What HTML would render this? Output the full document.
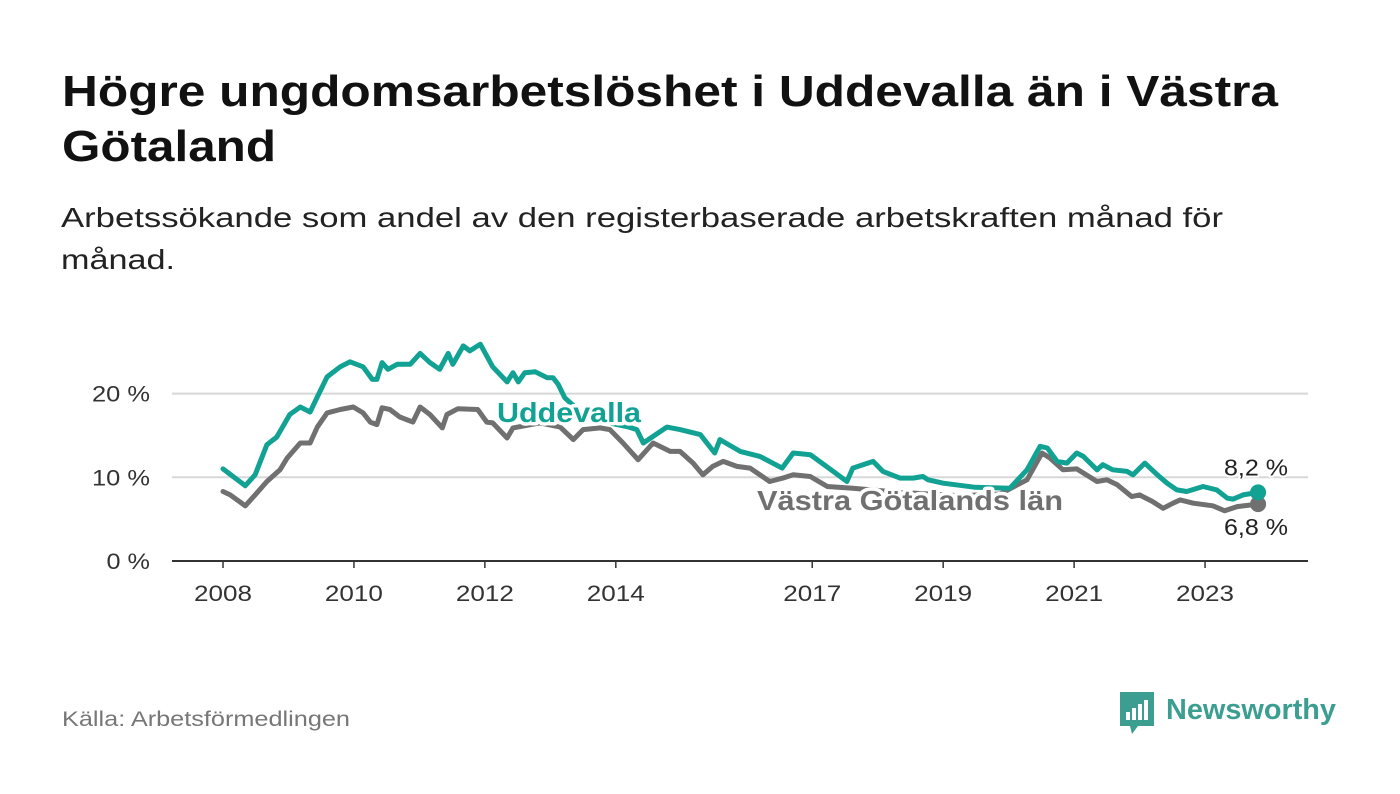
<!DOCTYPE html>
<html><head><meta charset="utf-8"><style>
html,body{margin:0;padding:0;background:#fff;}
svg{display:block;font-family:"Liberation Sans",sans-serif;}
</style></head><body>
<svg id="chart" width="1400" height="794" viewBox="0 0 1400 794" xmlns="http://www.w3.org/2000/svg">
<text x="62" y="106" font-size="44" font-weight="bold" fill="#111" textLength="1216" lengthAdjust="spacingAndGlyphs">Högre ungdomsarbetslöshet i Uddevalla än i Västra</text>
<text x="62" y="161" font-size="44" font-weight="bold" fill="#111" textLength="214" lengthAdjust="spacingAndGlyphs">Götaland</text>
<text x="61" y="227" font-size="28" fill="#222" textLength="1162" lengthAdjust="spacingAndGlyphs">Arbetssökande som andel av den registerbaserade arbetskraften månad för</text>
<text x="61" y="269" font-size="28" fill="#222" textLength="114" lengthAdjust="spacingAndGlyphs">månad.</text>
<g id="grid"></g>
<g id="yaxis"></g>
<g id="xaxis"></g>
<g id="series"></g>
<text x="62" y="726" font-size="21" fill="#777" textLength="288" lengthAdjust="spacingAndGlyphs">Källa: Arbetsförmedlingen</text>
<g>
<path d="M1120 692 h34 v34 h-16 l-6 8 l-2 -8 h-10 z" fill="#3c9e90"/>
<rect x="1126" y="712" width="4" height="8" fill="#fff"/>
<rect x="1132" y="708" width="4" height="12" fill="#fff"/>
<rect x="1138" y="704" width="4" height="16" fill="#fff"/>
<rect x="1144" y="700" width="4" height="20" fill="#fff"/>
<text x="1166" y="719" font-size="29" font-weight="bold" fill="#3c9e90" textLength="170" lengthAdjust="spacingAndGlyphs">Newsworthy</text>
</g>
</svg>
<script>
const yearTicks=[2008,2010,2012,2014,2017,2019,2021,2023];
const yTicks=[0,10,20];
const uddTimes=[2008.00,2008.34,2008.49,2008.67,2008.82,2009.02,2009.18,2009.33,2009.44,2009.59,2009.79,2009.94,2010.14,2010.28,2010.35,2010.43,2010.52,2010.66,2010.86,2011.01,2011.16,2011.31,2011.44,2011.51,2011.67,2011.77,2011.93,2012.12,2012.34,2012.43,2012.51,2012.61,2012.77,2012.95,2013.04,2013.12,2013.22,2013.50,2013.90,2014.20,2014.32,2014.42,2014.78,2014.98,2015.29,2015.51,2015.59,2015.90,2016.20,2016.54,2016.71,2016.97,2017.32,2017.53,2017.62,2017.93,2018.08,2018.34,2018.54,2018.69,2018.77,2019.00,2019.49,2020.02,2020.28,2020.48,2020.59,2020.74,2020.89,2021.04,2021.14,2021.35,2021.44,2021.59,2021.81,2021.90,2022.08,2022.27,2022.42,2022.57,2022.72,2022.97,2023.18,2023.34,2023.43,2023.58,2023.81];
const uddValues=[11.0,9.0,10.3,13.9,14.8,17.5,18.4,17.8,19.6,22.0,23.2,23.8,23.2,21.7,21.7,23.7,22.9,23.5,23.5,24.8,23.7,22.9,24.8,23.5,25.7,25.1,25.9,23.2,21.4,22.5,21.4,22.5,22.6,21.9,21.9,21.1,19.5,17.5,16.5,16.0,15.7,14.1,16.0,15.7,15.1,12.9,14.5,13.1,12.5,11.1,12.9,12.7,10.7,9.5,11.1,11.9,10.7,9.9,9.9,10.1,9.7,9.3,8.8,8.7,10.9,13.7,13.5,11.9,11.7,12.9,12.5,10.9,11.5,10.9,10.7,10.3,11.7,10.3,9.3,8.5,8.3,8.9,8.5,7.5,7.4,7.9,8.2];
const vgTimes=[2008.00,2008.11,2008.34,2008.49,2008.67,2008.87,2008.98,2009.18,2009.33,2009.44,2009.59,2009.79,2009.99,2010.14,2010.25,2010.35,2010.43,2010.55,2010.70,2010.90,2011.01,2011.16,2011.35,2011.42,2011.59,2011.89,2012.03,2012.12,2012.34,2012.43,2012.84,2013.15,2013.35,2013.50,2013.76,2013.91,2014.11,2014.34,2014.57,2014.83,2014.98,2015.18,2015.33,2015.48,2015.64,2015.85,2016.05,2016.35,2016.55,2016.71,2016.97,2017.23,2017.62,2018.34,2019.26,2019.87,2020.28,2020.51,2020.63,2020.83,2021.04,2021.35,2021.50,2021.66,2021.88,2022.00,2022.20,2022.36,2022.51,2022.62,2022.82,2023.12,2023.30,2023.49,2023.81];
const vgValues=[8.3,7.9,6.6,7.9,9.5,10.9,12.3,14.1,14.1,16.0,17.7,18.1,18.4,17.7,16.6,16.3,18.3,18.1,17.2,16.6,18.4,17.5,15.9,17.5,18.2,18.1,16.6,16.5,14.7,15.9,16.5,16.0,14.5,15.7,15.9,15.7,14.1,12.1,14.1,13.1,13.1,11.7,10.3,11.3,11.9,11.3,11.1,9.5,9.9,10.3,10.1,8.9,8.7,8.2,7.8,8.0,9.7,12.9,12.3,10.9,11.0,9.5,9.7,9.1,7.7,7.9,7.1,6.3,6.9,7.3,6.9,6.6,6.0,6.5,6.8];

const NS='http://www.w3.org/2000/svg';
const x0=223,pxPerYear=65.47,y0=561,pxPerPct=8.37;
const xs=t=>x0+(t-2008)*pxPerYear;
const ys=v=>y0-v*pxPerPct;
function mk(tag,attrs,parent){const e=document.createElementNS(NS,tag);for(const k in attrs)e.setAttribute(k,attrs[k]);parent.appendChild(e);return e;}
const grid=document.getElementById('grid'),yax=document.getElementById('yaxis'),xax=document.getElementById('xaxis'),ser=document.getElementById('series');
yTicks.forEach(v=>{
  if(v>0){const g=mk('line',{x1:172,x2:1308,y1:ys(v),y2:ys(v),stroke:'#d8d8d8','stroke-width':2},grid);
  
  }
  const lab=v+' %';
  const t=mk('text',{x:150,y:ys(v)+8,'font-size':22,fill:'#333','text-anchor':'end',textLength:lab.length*14.5,lengthAdjust:'spacingAndGlyphs'},yax);
  t.textContent=lab;
  
  
});
const base=mk('line',{x1:172,x2:1308,y1:y0,y2:y0,stroke:'#333','stroke-width':2},xax);


yearTicks.forEach(yr=>{
  mk('line',{x1:xs(yr),x2:xs(yr),y1:y0,y2:y0+7,stroke:'#333','stroke-width':1.5},xax);
  const t=mk('text',{x:xs(yr),y:601,'font-size':22,fill:'#333','text-anchor':'middle',textLength:58,lengthAdjust:'spacingAndGlyphs'},xax);
  t.textContent=yr;
  
  
});
function line(times,vals,color,name){
  const d=times.map((t,i)=>(i?'L':'M')+xs(t).toFixed(1)+' '+ys(vals[i]).toFixed(1)).join(' ');
  const p=mk('path',{d:d,fill:'none',stroke:color,'stroke-width':5,'stroke-linejoin':'round','stroke-linecap':'round'},ser);
  
  
  const n=times.length-1;
  const c=mk('circle',{cx:xs(times[n]),cy:ys(vals[n]),r:8,fill:color},ser);
  
  
}
line(vgTimes,vgValues,'#707070','vg-line');
line(uddTimes,uddValues,'#12a294','uddevalla-line');
function label(x,y,txt,color,name,anchor,bold,len){
  const t=mk('text',{x:x,y:y,'font-size':bold?28:23,'font-weight':bold?'bold':'normal',fill:color,stroke:'#fff','stroke-width':bold?7:4,'paint-order':'stroke','stroke-linejoin':'round','text-anchor':anchor||'start',textLength:len,lengthAdjust:'spacingAndGlyphs'},ser);
  t.textContent=txt;
  
  
}
label(497,422,'Uddevalla','#12a294','uddevalla-label','start',true,144);
label(757,510,'Västra Götalands län','#707070','vg-label','start',true,306);
const ue=uddValues.length-1, ve=vgValues.length-1;
label(1256,ys(uddValues[ue])-17,(uddValues[ue].toFixed(1)).replace('.',',')+' %','#222','uddevalla-end-value','middle',false,64);
label(1256,ys(vgValues[ve])+31,(vgValues[ve].toFixed(1)).replace('.',',')+' %','#222','vg-end-value','middle',false,64);
</script>
</body></html>
